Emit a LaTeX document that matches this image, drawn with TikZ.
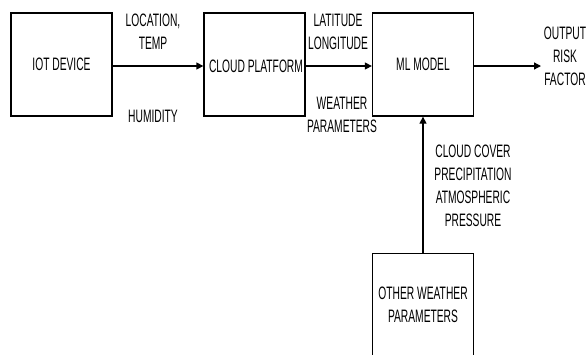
\documentclass[tikz,border=0pt]{standalone}
\usepackage{fontspec}
\setmainfont{Liberation Sans}[FakeStretch=0.57]
\usetikzlibrary{arrows.meta}
\begin{document}
\begin{tikzpicture}[x=1pt,y=-1pt,
  blk/.style={draw,line width=1.3pt,minimum width=101pt,minimum height=103pt,inner sep=0pt,font=\fontsize{18}{23}\selectfont},
  lbl/.style={align=center,inner sep=0pt,font=\fontsize{18}{23}\selectfont},
  conn/.style={line width=1.3pt,-{Triangle[length=7pt,width=7pt]}}]
\useasboundingbox (0,0) rectangle (586,354);
\node[blk] (iot) at (61.5,64.5) {IOT DEVICE};
\node[blk] (cloud) at (254.5,64.5) {};
\node[lbl] at (256,66) {CLOUD PLATFORM};
\node[blk] (ml) at (423,64.5) {ML MODEL};
\node[blk,minimum height=106pt,anchor=north] (other) at (423,253) {};
\node[lbl] at (423,305) {OTHER WEATHER\\PARAMETERS};
\coordinate (out) at (541,66);
\node[lbl] at (565,56) {OUTPUT\\RISK\\FACTOR};
\draw[conn] (iot.east |- 0,66) -- (cloud.west |- 0,66);
\draw[conn] (cloud.east |- 0,66) -- (ml.west |- 0,66);
\draw[conn] (ml.east |- 0,66) -- (out);
\draw[conn] (other.north) -- (ml.south);
\node[lbl] at (153,32) {LOCATION,\\TEMP};
\node[lbl] at (153,116) {HUMIDITY};
\node[lbl] at (338,32) {LATITUDE\\LONGITUDE};
\node[lbl] at (342,115) {WEATHER\\PARAMETERS};
\node[lbl] at (473,186) {CLOUD COVER\\PRECIPITATION\\ATMOSPHERIC\\PRESSURE};
\end{tikzpicture}
\end{document}
